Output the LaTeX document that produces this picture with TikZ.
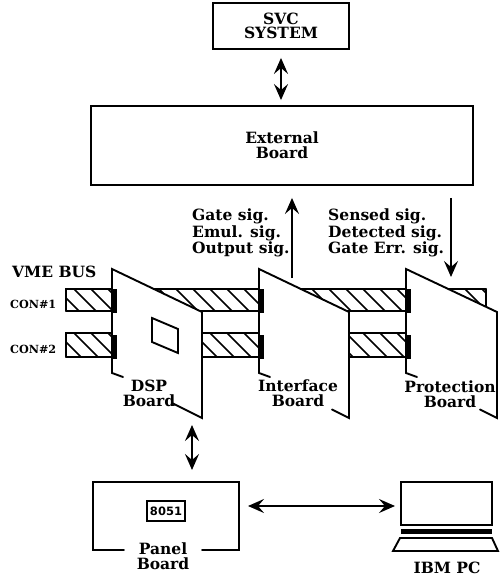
\documentclass[tikz,border=0pt]{standalone}
\usepackage{fontspec}
\setmainfont{DejaVu Serif}
\setsansfont{DejaVu Sans}
\usetikzlibrary{arrows.meta}
\tikzset{
  ln/.style={line width=1.9pt,line cap=round,line join=miter},
  txt/.style={font=\fontsize{15.5}{14.7}\selectfont\bfseries,inner sep=0pt,align=center},
  boxn/.style={txt,draw,line width=1.9pt},
  txtl/.style={txt,align=left,anchor=north west},
  small/.style={font=\fontsize{11.2}{12}\selectfont\bfseries,inner sep=0pt,anchor=west},
  arr/.style={line width=1.9pt,{Stealth[length=16pt,width=14pt,inset=6pt]}-{Stealth[length=16pt,width=14pt,inset=6pt]}},
  arrone/.style={line width=1.9pt,-{Stealth[length=16pt,width=14pt,inset=6pt]}},
  hatchline/.style={line width=1.5pt},
  boardfill/.style={fill=white}
}
\newcommand{\busbar}[3]{% x-end, y-top, y-bottom
  \begin{scope}
    \clip (66,#2) rectangle (#1,#3);
    \foreach \i in {0,...,27} {\draw[hatchline] ({40+17*\i},#2) -- ++(26,26);}
  \end{scope}
  \draw[ln] (66,#3) -- (#1,#3);
  \draw[ln] (#1,#2) -- (66,#2) -- (66,#3);
}
\newcommand{\board}[3]{% left x, right x, bottom tick start x
  \fill[boardfill] (#1,269) -- (#2,312) -- (#2,418) -- (#1,373) -- cycle;
  \draw[ln] ({#1+11},377) -- (#1,373) -- (#1,269) -- (#2,312) -- (#2,418) -- (#3,{418-(#2-#3)*0.5});
  \fill ({#1},289) rectangle ({#1+5},313);
  \fill ({#1},335) rectangle ({#1+5},359);
}
\begin{document}
\begin{tikzpicture}[x=1pt,y=-1pt]
\useasboundingbox (0,0) rectangle (501,578);
% top boxes
\node[boxn,minimum width=136pt,minimum height=46pt] (svc) at (281,26) {SVC\\SYSTEM};
\node[boxn,minimum width=382pt,minimum height=79pt] (ext) at (282,145.5) {External\\Board};
\draw[arr,shorten >=5pt,shorten <=8pt] (svc.south) -- (svc.south |- ext.north);
% signal labels
\node[txtl] (sigl) at (192,209) {Gate sig.\\Emul. sig.\\Output sig.};
\node[txtl] (sigr) at (328,209) {Sensed sig.\\Detected sig.\\Gate Err. sig.};
% bus
\busbar{486}{289}{311}
\draw[ln] (486,289) -- (486,306);
\busbar{406}{333}{357}
% boards
\board{112}{202}{173}
\board{259}{349}{332}
\board{406}{497}{480}
\draw[ln] (152,318) -- (178,329) -- (178,353) -- (152,342) -- cycle;
\node[txt] (dsp) at (149,393.5) {DSP\\Board};
\node[txt] (ifc) at (298,393.5) {Interface\\Board};
\node[txt] (prot) at (450,394.5) {Protection\\Board};
\node[txt,anchor=west] (vme) at (12,272) {VME BUS};
\node[small] (con1) at (10,304) {CON\#1};
\node[small] (con2) at (10,349) {CON\#2};
% signal arrows
\coordinate (upend) at (292,278);
\coordinate (dnend) at (451,277);
\draw[arrone,shorten >=12pt] (upend) -- (upend |- ext.south);
\draw[arrone,shorten <=12pt] (dnend |- ext.south) -- (dnend);
% panel board
\draw[ln] (124,550) -- (93,550) -- (93,482) -- (239,482) -- (239,550) -- (202,550);
\node[txt] (panel) at (163,556.5) {Panel\\Board};
\node[draw,line width=1.9pt,minimum width=38pt,minimum height=20pt,inner sep=0pt,font=\fontsize{11.5}{12}\selectfont\sffamily\bfseries] (chip) at (166,511) {8051};
\coordinate (dspb) at (192,425);
\coordinate (panelt) at (192,470);
\draw[arr] (dspb) -- (panelt);
% PC
\node[draw,line width=1.9pt,minimum width=91pt,minimum height=43pt,inner sep=0pt] (pc) at (446.5,503.5) {};
\fill (401,529) rectangle (492,533.5);
\draw[ln] (400,538) -- (492,538) -- (498,551) -- (393,551) -- cycle;
\node[txt] (ibm) at (447,568) {IBM PC};
\draw[arr] (248,506) -- (395,506);
\end{tikzpicture}
\end{document}
